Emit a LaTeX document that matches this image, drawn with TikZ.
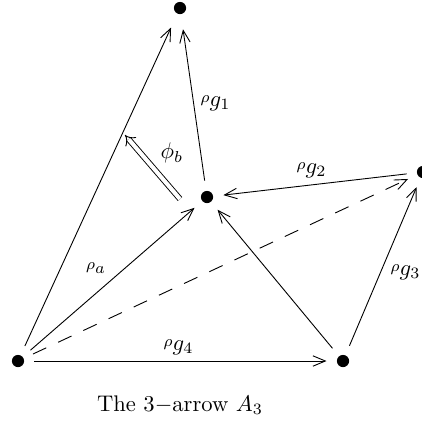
\documentclass[tikz,border=0pt]{standalone}
\usetikzlibrary{arrows.meta}
\newcommand{\rg}[1]{{\scriptstyle\rho}_{\textstyle g_{#1}}}
\tikzset{
 pt/.style={circle,minimum size=14.2pt,inner sep=0pt,
   path picture={\fill (path picture bounding box.center) circle (2.7pt);}},
 ar/.style={-{Straight Barb[length=5.5pt,width=4.6pt]}},
 lab/.style={inner sep=0pt}
}
\begin{document}
\begin{tikzpicture}[x=0.4425pt,y=-0.4425pt]
\useasboundingbox (0,0) rectangle (422,422);

% the five points
\node[pt,minimum size=18.6pt] (t) at (180,8) {};
\node[pt] (c) at (207,197) {};
\node[pt] (r) at (423,172) {};
\node[pt] (bl) at (18,361) {};
\node[pt] (br) at (343,361) {};
\coordinate (phis) at (180,199);
\coordinate (phit) at (125,135);

% arrows
\draw[ar] (bl) -- (t);
\draw[ar] (c) -- (t);
\draw[ar] (r) -- (c);
\draw[ar] (bl) -- (c);
\draw[ar,dash pattern=on 6.5pt off 5.8pt] (bl) -- (r);
\draw[ar] (br) -- (c);
\draw[ar] (br) -- (r);
\draw[ar] (bl) -- (br);
\draw[double,double distance=1.8pt,-{Implies}] (phis) -- (phit);

% labels
\node[lab] (l1) at (216,103) {$\rg{1}$};
\node[lab] (l2) at (312,170) {$\rg{2}$};
\node[lab] (l3) at (406,272) {$\rg{3}$};
\node[lab] (l4) at (179,347) {$\rg{4}$};
\node[lab] (la) at (96,268) {${\scriptstyle\rho}_a$};
\node[lab] (lb) at (172,153) {$\phi_b$};
\node (cap) at (180,405) {The 3$-$arrow $A_3$};
\end{tikzpicture}
\end{document}
